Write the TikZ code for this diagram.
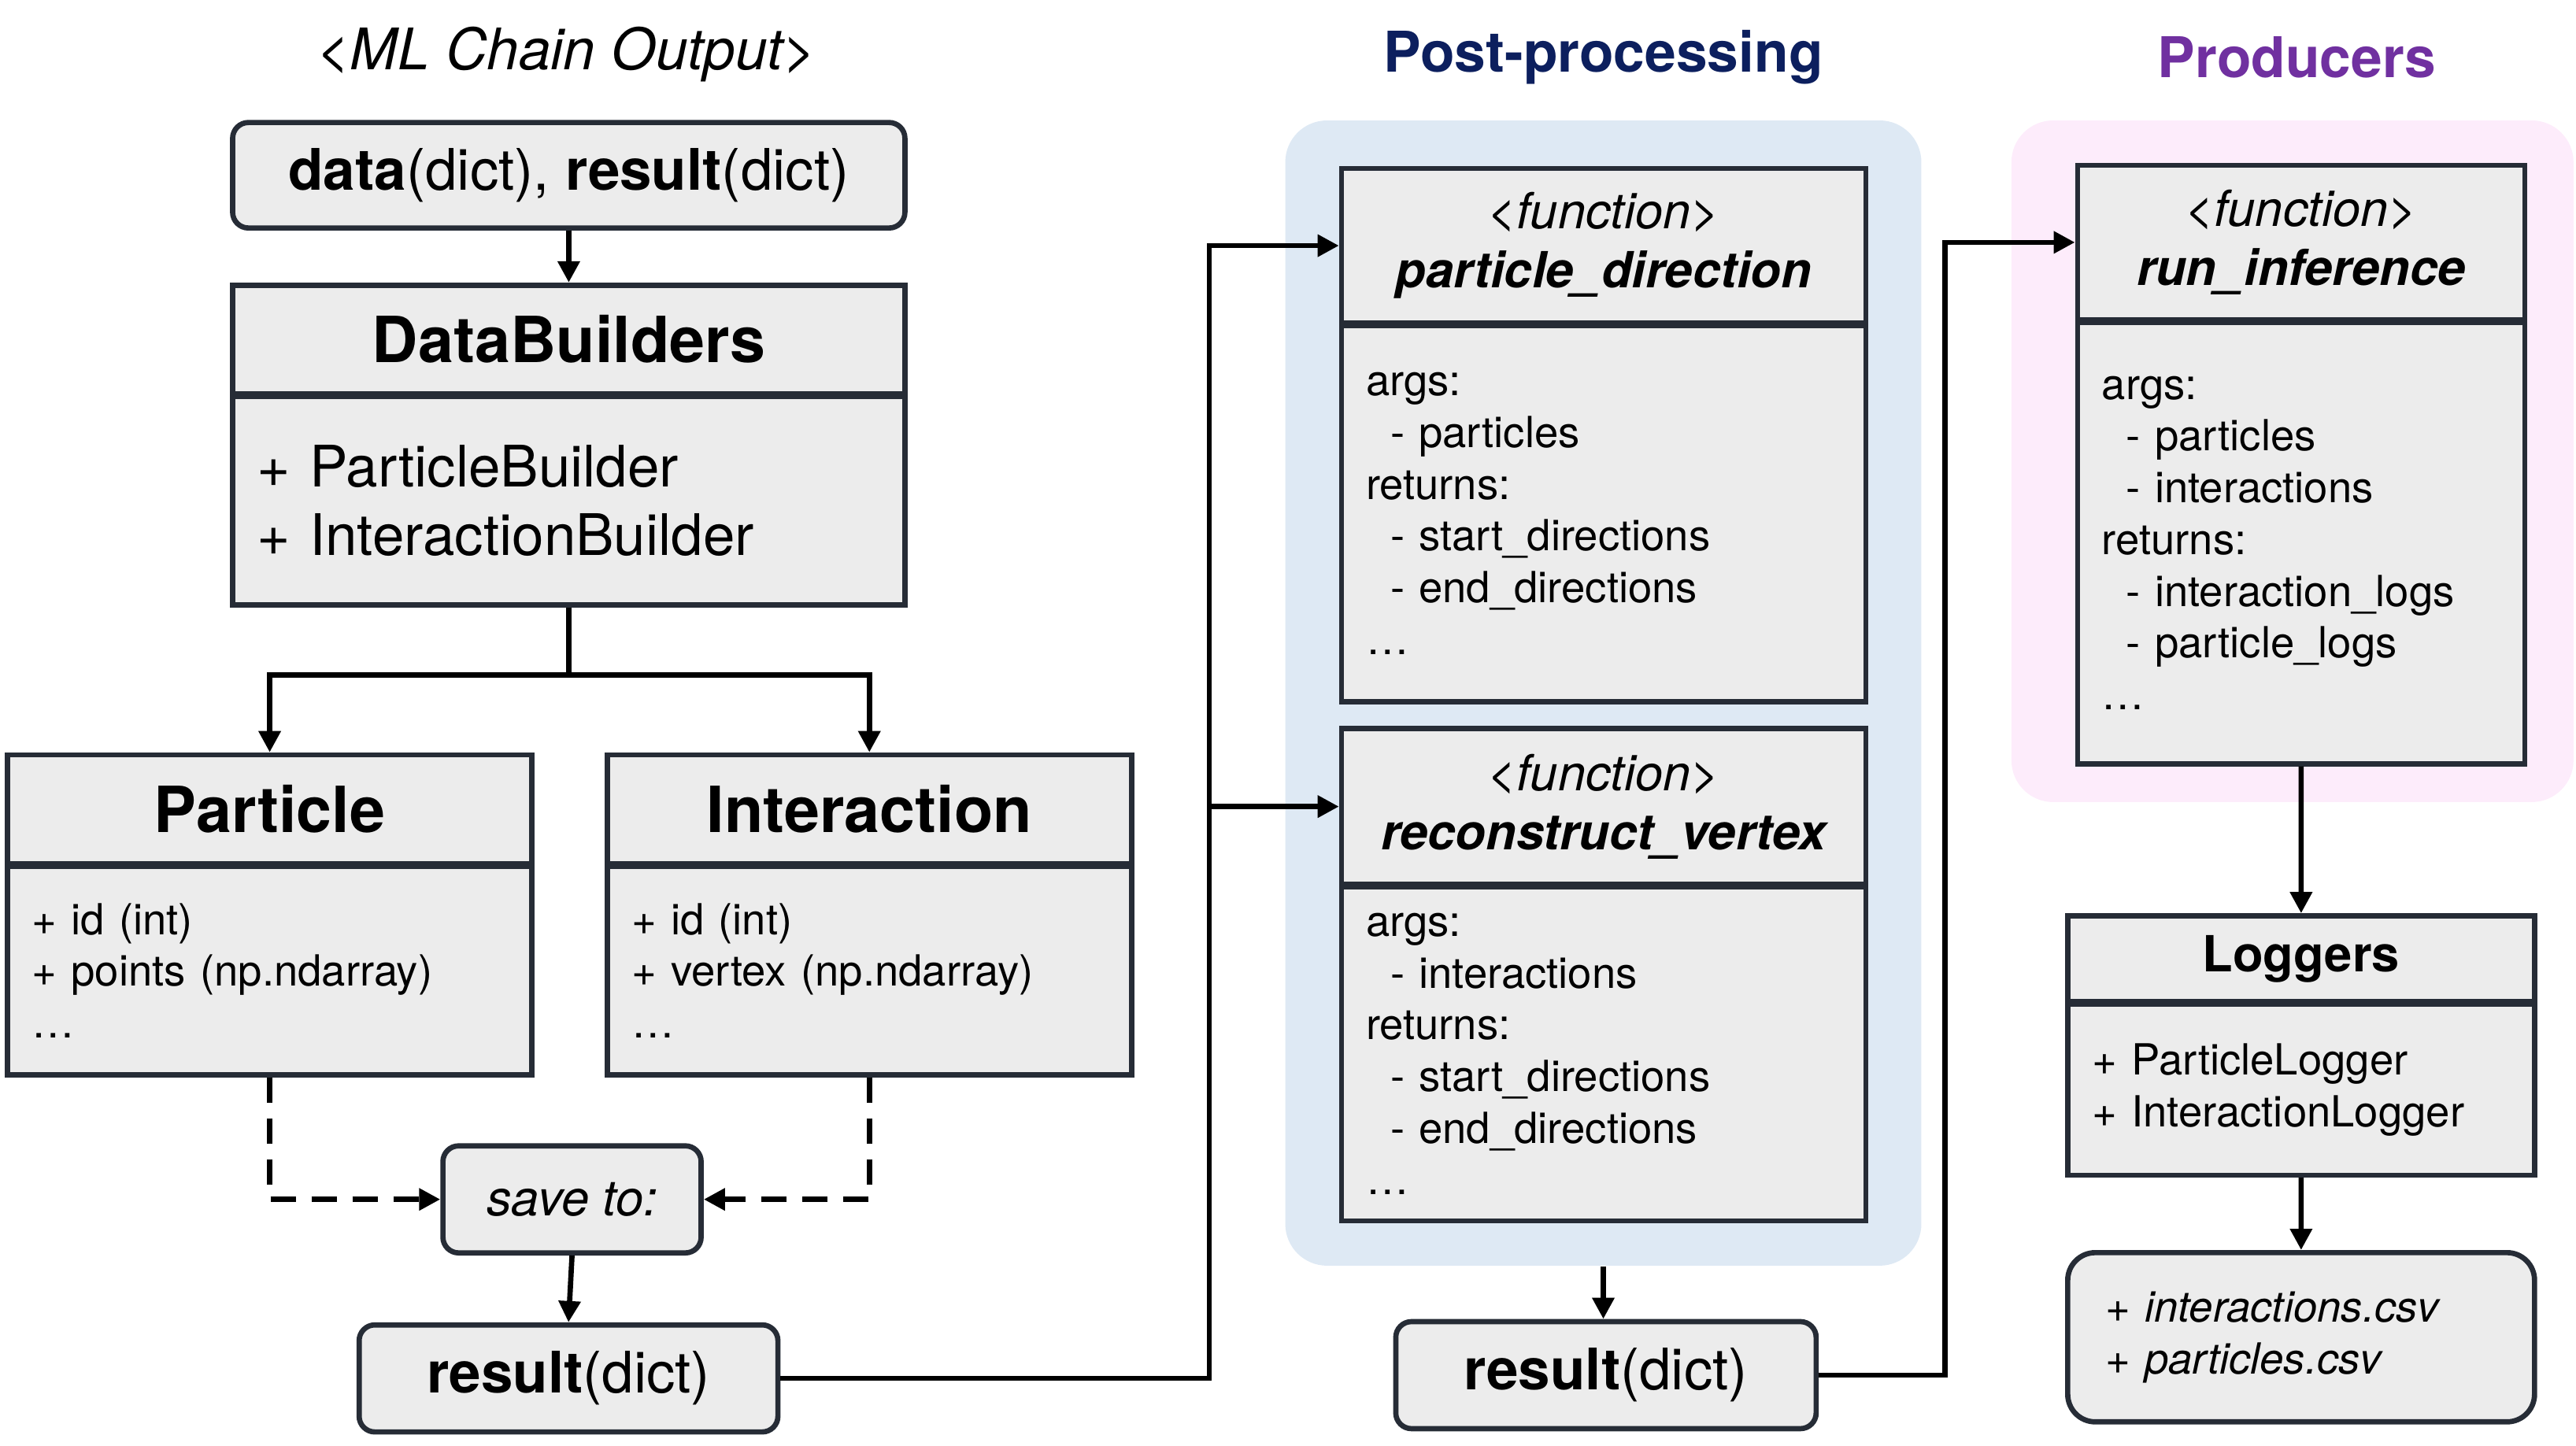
\documentclass[tikz,border=0pt]{standalone}
\usepackage{fontspec}
\setmainfont{TeX Gyre Heros}
\usepackage{tikz}
\usetikzlibrary{arrows.meta}

\definecolor{boxfill}{HTML}{ECECEC}
\definecolor{boxline}{HTML}{262C36}
\definecolor{ppblue}{HTML}{DEE9F4}
\definecolor{prodpink}{HTML}{FDECFB}
\definecolor{ppnavy}{HTML}{0C1F5E}
\definecolor{prodpurple}{HTML}{7030A0}

\newcommand{\fntTitle}{\fontsize{23}{27}\selectfont\bfseries}
\newcommand{\fntBig}{\fontsize{20.7}{24.9}\selectfont}
\newcommand{\fntHead}{\fontsize{18}{21.4}\selectfont}
\newcommand{\fntBody}{\fontsize{15.5}{18.7}\selectfont}
\newcommand{\ind}{\hspace*{3.1mm}}

\tikzset{
    umlbox/.style={draw=boxline, fill=boxfill, line width=1.9pt, inner sep=0pt, anchor=north west},
    headbox/.style={umlbox, align=center},
    bodybox/.style={umlbox, align=left, inner xsep=3.1mm, yshift=0.95pt},
    roundbox/.style={umlbox, rounded corners=2mm, align=center},
    panel/.style={rounded corners=5.3mm, inner sep=0pt, anchor=north west},
    arrow/.style={line width=1.9pt, -{Triangle[length=2.7mm, width=2.7mm]}},
    dasharrow/.style={arrow, dash pattern=on 3.2mm off 2mm},
    paneltitle/.style={font=\fontsize{20.3}{24}\selectfont\bfseries},
}

\begin{document}
\begin{tikzpicture}[x=0.2087mm, y=-0.2087mm]
        \useasboundingbox (0,0) rectangle (1568,880);

        % background panels
        \node[panel, fill=ppblue, minimum width=80.8mm, minimum height=145.5mm] (ppBox) at (782,73) {};
        \node[panel, fill=prodpink, minimum width=71.4mm, minimum height=86.6mm] (prodBox) at (1224,73) {};

        % ML chain side
        \node[font=\fntBig\itshape] (mlTitle) at (345,33) {<ML Chain Output>};

        \node[roundbox, minimum width=85.4mm, minimum height=13.4mm, font=\fntBig] (data) at (140,73) {\textbf{data}(dict), \textbf{result}(dict)};

        \node[headbox, minimum width=85.4mm, minimum height=13.8mm, font=\fntTitle] (dbHead) at (140,172) {DataBuilders};
        \node[bodybox, text width=79.2mm, minimum height=26.5mm, font=\fontsize{20.7}{24.9}\selectfont] (dbBody) at (dbHead.south west) {+ ParticleBuilder\\+ InteractionBuilder};

        \node[headbox, minimum width=66.6mm, minimum height=13.8mm, font=\fntTitle] (partHead) at (3,458) {Particle};
        \node[bodybox, text width=60.4mm, minimum height=26.5mm, font=\fntBody] (partBody) at (partHead.south west) {+ id (int)\\+ points (np.ndarray)\\\dots};

        \node[headbox, minimum width=66.6mm, minimum height=13.8mm, font=\fntTitle] (interHead) at (368,458) {Interaction};
        \node[bodybox, text width=60.4mm, minimum height=26.5mm, font=\fntBody] (interBody) at (interHead.south west) {+ id (int)\\+ vertex (np.ndarray)\\\dots};

        \node[roundbox, minimum width=32.8mm, minimum height=13.6mm, font=\fntHead\itshape] (save) at (268,696) {save to:};

        \node[roundbox, minimum width=53.2mm, minimum height=13.6mm, font=\fntBig] (res1) at (217,805) {\textbf{result}(dict)};

        % Post-processing
        \node[paneltitle, ppnavy] (ppTitle) at (976,35) {Post-processing};

        \node[headbox, minimum width=66.6mm, minimum height=19.6mm, font=\fntHead\itshape] (pdHead) at (815,101) {<function>\\\textbf{particle\_direction}};
        \node[bodybox, text width=60.4mm, minimum height=47.8mm, font=\fntBody] (pdBody) at (pdHead.south west) {args:\\\ind- particles\\returns:\\\ind- start\_directions\\\ind- end\_directions\\\dots};

        \node[headbox, minimum width=66.6mm, minimum height=19.8mm, font=\fntHead\itshape] (rvHead) at (815,442) {<function>\\\textbf{reconstruct\_vertex}};
        \node[bodybox, text width=60.4mm, minimum height=42.4mm, font=\fntBody] (rvBody) at (rvHead.south west) {args:\\\ind- interactions\\returns:\\\ind- start\_directions\\\ind- end\_directions\\\dots};

        \node[roundbox, minimum width=53.4mm, minimum height=13.6mm, font=\fntBig] (res2) at (848,803) {\textbf{result}(dict)};

        % Producers
        \node[paneltitle, prodpurple] (prodTitle) at (1398,35) {Producers};

        \node[headbox, minimum width=56.8mm, minimum height=19.6mm, font=\fntHead\itshape] (riHead) at (1263,99) {<function>\\\textbf{run\_inference}};
        \node[bodybox, text width=50.6mm, minimum height=56.1mm, font=\fntBody] (riBody) at (riHead.south west) {args:\\\ind- particles\\\ind- interactions\\returns:\\\ind- interaction\_logs\\\ind- particle\_logs\\\dots};

        \node[headbox, minimum width=59.3mm, minimum height=10.9mm, font=\fntHead\bfseries] (logHead) at (1257,556) {Loggers};
        \node[bodybox, text width=53.1mm, minimum height=21.7mm, font=\fontsize{15.5}{18.9}\selectfont] (logBody) at (logHead.south west) {+ ParticleLogger\\+ InteractionLogger};

        \node[umlbox, rounded corners=3.5mm, align=left, inner xsep=4.8mm, text width=49.7mm, minimum height=21.5mm, font=\fontsize{15.5}{18.9}\selectfont\itshape] (csv) at (1257,761) {+ interactions.csv\\+ particles.csv};

        % connectors
        \coordinate (split) at (345,411);
        \coordinate (bend1) at (736,0);
        \coordinate (bend2) at (1184,0);

        \draw[arrow] (data.south) -- (dbHead.north);
        \draw[line width=1.9pt] (dbBody.south) -- (dbBody.south |- split);
        \draw[arrow] (dbBody.south |- split) -| (partHead.north);
        \draw[arrow] (dbBody.south |- split) -| (interHead.north);

        \draw[dasharrow] (partBody.south) |- (save.west);
        \draw[dasharrow] (interBody.south) |- (save.east);
        \draw[arrow] (save.south) -- (res1.north);

        \draw[arrow] (res1.east) -| (bend1 |- pdHead.west) -- (pdHead.west);
        \draw[arrow] (bend1 |- rvHead.west) -- (rvHead.west);

        \draw[arrow] (ppBox.south) -- (ppBox.south |- res2.north);
        \draw[arrow] (res2.east) -| (bend2 |- riHead.west) -- (riHead.west);

        \draw[arrow] (riBody.south) -- (logHead.north);
        \draw[arrow] (logBody.south) -- (csv.north);

    \end{tikzpicture}
\end{document}
